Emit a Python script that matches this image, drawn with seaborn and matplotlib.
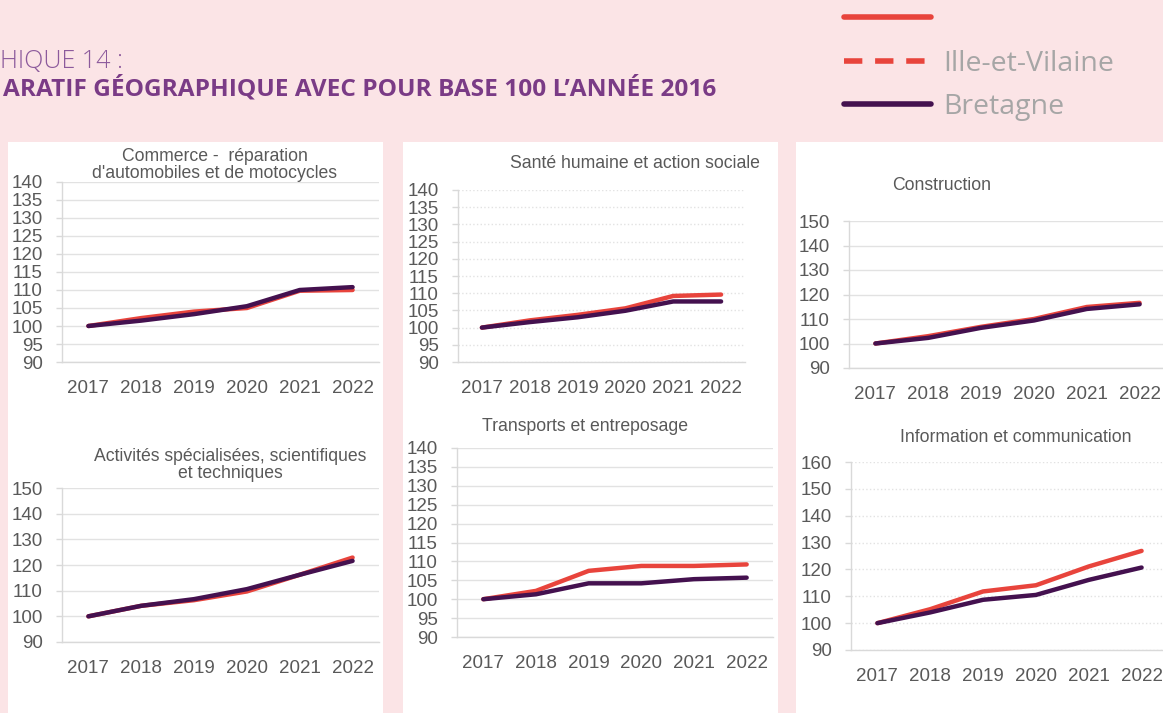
import matplotlib
matplotlib.use("Agg")
import matplotlib.pyplot as plt
from matplotlib.lines import Line2D
from matplotlib.patches import Rectangle
from matplotlib.ticker import MultipleLocator, FixedLocator
import seaborn as sns
import pandas as pd

# index base 100 = 2016
years = [2017, 2018, 2019, 2020, 2021, 2022]
zones = ["Ille-et-Vilaine", "Bretagne"]

commerce_ille = [100, 102.2, 104.0, 105.0, 109.8, 110.0]
commerce_bret = [100, 101.5, 103.3, 105.5, 110.0, 110.8]
sante_ille = [100, 102.1, 103.7, 105.6, 109.2, 109.6]
sante_bret = [100, 101.6, 103.0, 104.9, 107.6, 107.6]
construction_ille = [100, 103.0, 106.8, 110.0, 114.9, 116.6]
construction_bret = [100, 102.3, 106.4, 109.4, 114.1, 116.0]
activites_ille = [100, 104.1, 106.3, 109.7, 116.2, 122.9]
activites_bret = [100, 104.1, 106.7, 110.6, 116.2, 121.6]
transports_ille = [100, 102.2, 107.5, 108.8, 108.8, 109.2]
transports_bret = [100, 101.3, 104.2, 104.2, 105.3, 105.7]
info_ille = [100, 105.2, 111.8, 114.1, 121.1, 126.9]
info_bret = [100, 104.0, 108.7, 110.5, 116.1, 120.7]

titles = ["Commerce -  réparation\nd'automobiles et de motocycles",
          "Santé humaine et action sociale",
          "Construction",
          "Activités spécialisées, scientifiques\net techniques",
          "Transports et entreposage",
          "Information et communication"]

W, H = 1163, 713
RED = "#e8443c"
PURPLE = "#44114f"
PINK = "#fbe4e6"
GREY_TXT = "#595959"
GRID = "#e2e2e2"

sns.set_style("white")
plt.rcParams["font.family"] = ["Liberation Sans", "DejaVu Sans"]

fig = plt.figure(figsize=(W / 100, H / 100), dpi=100, facecolor=PINK)

def fx(px):
    return px / W

def fy(py):
    return 1 - py / H

# white columns behind the panels
for x0, x1 in [(8, 383), (403, 778), (796, 1163)]:
    fig.add_artist(Rectangle((fx(x0), 0), fx(x1 - x0), fy(142), transform=fig.transFigure,
                             facecolor="white", edgecolor="none", zorder=0))

panels = [
    # series, axes box (left, right, top, bottom) px, y-range, grid style, title pos
    (commerce_ille, commerce_bret, (62, 379, 182, 362), (90, 140, 5), "-", (215, 165)),
    (sante_ille, sante_bret, (458, 745, 190, 362), (90, 140, 5), ":", (635, 163)),
    (construction_ille, construction_bret, (849, 1166, 221, 368), (90, 150, 10), "-", (942, 185)),
    (activites_ille, activites_bret, (62, 379, 488, 642), (90, 150, 10), "-", (230, 465)),
    (transports_ille, transports_bret, (457, 773, 448, 637), (90, 140, 5), "-", (585, 427)),
    (info_ille, info_bret, (851, 1168, 462, 650), (90, 160, 10), ":", (1016, 437)),
]

for i, (ille, bret, box, yr, gstyle, tpos) in enumerate(panels):
    l, r, t, b = box
    ax = fig.add_axes([fx(l), fy(b), fx(r - l), (b - t) / H])
    ax.set_facecolor("none")
    df = pd.DataFrame({
        "year": years * 2,
        "value": ille + bret,
        "zone": [zones[0]] * len(years) + [zones[1]] * len(years),
    })
    sns.lineplot(data=df, x="year", y="value", hue="zone", hue_order=zones,
                 palette=[RED, PURPLE], linewidth=3.2, legend=False, ax=ax,
                 solid_capstyle="round")
    lo, hi, step = yr
    ax.set_ylim(lo, hi)
    ax.set_xlim(2016.5, 2022.5)
    ax.yaxis.set_major_locator(MultipleLocator(step))
    ax.set_xticks(years)
    ax.set_xticklabels([str(y) for y in years])
    ax.xaxis.set_minor_locator(FixedLocator([y - 0.5 for y in years] + [2022.5]))
    ax.set_xlabel("")
    ax.set_ylabel("")
    ax.grid(axis="y", color=GRID, linewidth=1, linestyle=gstyle)
    ax.set_axisbelow(True)
    for s in ["top", "right"]:
        ax.spines[s].set_visible(False)
    for s in ["left", "bottom"]:
        ax.spines[s].set_color("#d9d9d9")
        ax.spines[s].set_linewidth(1)
    ax.tick_params(axis="x", which="major", length=0, pad=13, labelsize=13.5, labelcolor=GREY_TXT)
    ax.tick_params(axis="x", which="minor", length=5, width=1, color="#d9d9d9", direction="out")
    ax.tick_params(axis="y", which="major", length=4, width=1, color="#d9d9d9", pad=10,
                   labelsize=13.5, labelcolor=GREY_TXT, left=True)
    fig.text(fx(tpos[0]), fy(tpos[1]), titles[i], ha="center", va="center",
             fontsize=12.7, color=GREY_TXT, linespacing=1.0)

# page header (cropped in the source)
fig.text(fx(0), fy(61), "HIQUE 14 :", ha="left", va="center", fontsize=18,
         color="#8c5a9c", fontweight="light", family=["Open Sans", "DejaVu Sans"])
fig.text(fx(3), fy(89), "ARATIF GÉOGRAPHIQUE AVEC POUR BASE 100 L’ANNÉE 2016", ha="left",
         va="center", fontsize=17.6, fontweight="bold", color="#7a3b86",
         family=["Open Sans", "DejaVu Sans"])

handles = [Line2D([], [], color=RED, lw=4),
           Line2D([], [], color=RED, lw=4, dashes=(3.3, 2.3)),
           Line2D([], [], color=PURPLE, lw=4)]
leg = fig.legend(handles, ["", "Ille-et-Vilaine", "Bretagne"], loc="upper left",
                 bbox_to_anchor=(fx(844), fy(6)), frameon=False, borderpad=0,
                 borderaxespad=0, handlelength=3.05, handletextpad=0.45,
                 labelspacing=0.55, prop={"family": "Open Sans", "size": 20.5})
for txt in leg.get_texts():
    txt.set_color("#a6a6a6")

fig.savefig("out.png", dpi=100, facecolor=PINK)
